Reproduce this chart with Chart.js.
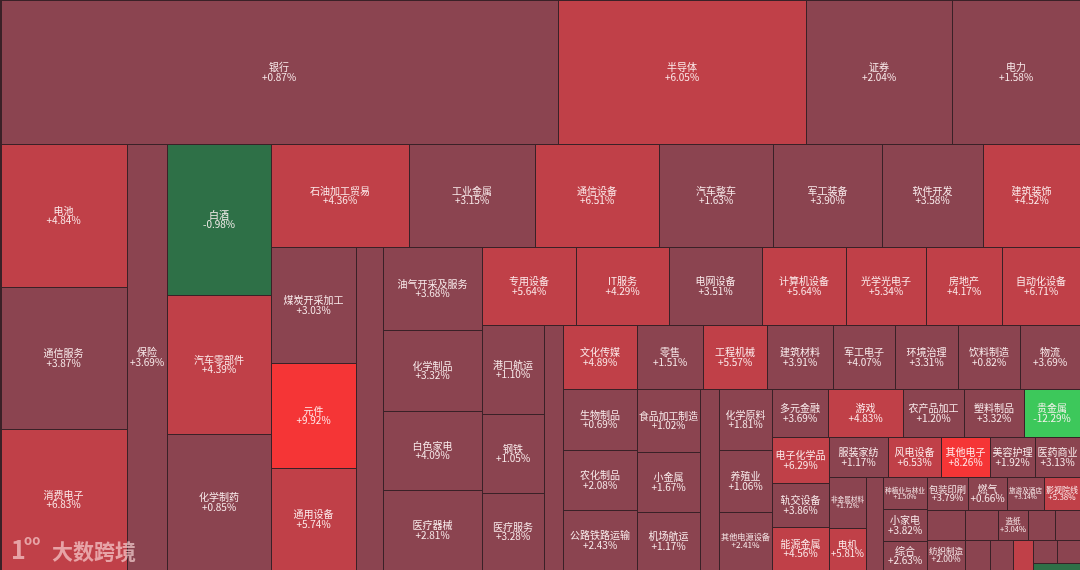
<!DOCTYPE html>
<html lang="zh-CN">
<head>
<meta charset="utf-8">
<title>行业热力图</title>
<script src="https://cdn.jsdelivr.net/npm/chart.js@4.4.1/dist/chart.umd.min.js"></script>
<style>
  html, body { margin: 0; padding: 0; background: #2b1a1f; }
  #wrap { width: 1080px; height: 570px; position: relative; }
</style>
</head>
<body>
<div id="wrap"><canvas id="heat"></canvas></div>
<script>
/* ============================================================
   行业热力图  |  treemap drawn on Chart.js scales
   ============================================================ */

// ── Data ─────────────────────────────────────────────────────
const industries = [
  '银行', '半导体', '证券', '电力',
  '电池', '通信服务', '消费电子',
  '保险',
  '白酒', '汽车零部件', '化学制药',
  '石油加工贸易', '工业金属', '通信设备', '汽车整车', '军工装备', '软件开发', '建筑装饰',
  '煤炭开采加工', '元件', '通用设备',
  '光伏设备',
  '油气开采及服务', '化学制品', '白色家电', '医疗器械',
  '专用设备', 'IT服务', '电网设备', '计算机设备', '光学光电子', '房地产', '自动化设备',
  '港口航运', '钢铁', '医疗服务',
  '中药',
  '文化传媒', '零售', '工程机械', '建筑材料', '军工电子', '环境治理', '饮料制造', '物流',
  '生物制品', '农化制品', '公路铁路运输',
  '食品加工制造', '小金属', '机场航运',
  '家居用品',
  '化学原料', '养殖业', '其他电源设备',
  '多元金融', '游戏', '农产品加工', '塑料制品', '贵金属',
  '电子化学品', '轨交设备', '能源金属',
  '服装家纺', '风电设备', '其他电子', '美容护理', '医药商业',
  '非金属材料', '电机',
  '环保设备',
  '种植业与林业', '小家电', '综合',
  '包装印刷', '燃气', '旅游及酒店', '影视院线',
  '其他社会服务', '纺织制造',
  '金属新材料', '造纸', '橡胶制品', '化学纤维',
  '厨卫电器',
  '黑色家电',
  '教育',
  '汽车服务', '油服工程',
  '贸易'
];

// relative size of each industry (tile area)
const weights = [
  806, 358, 211, 185,
  181, 181, 180,
  168,
  157, 144, 142,
  141, 130, 127, 116, 112, 104, 99,
  99, 89, 87,
  86,
  82, 80, 79, 79,
  73, 73, 72, 66, 62, 59, 61,
  55, 49, 48,
  47,
  47, 42, 41, 42, 40, 40, 40, 38,
  45, 44, 44,
  40, 38, 37,
  34,
  33, 33, 31,
  27, 36, 29, 29, 27,
  26, 25, 24,
  24, 21, 20, 18, 18,
  19, 16,
  15,
  14, 14, 13,
  13.5, 13, 12, 12,
  11.4, 11.4,
  9.9, 9, 8.1, 7.5,
  7.5,
  6.9,
  6,
  5.5, 5.3,
  3.3
];

// daily change, %
const changes = [
  0.87, 6.05, 2.04, 1.58,
  4.84, 3.87, 6.83,
  3.69,
  -0.98, 4.39, 0.85,
  4.36, 3.15, 6.51, 1.63, 3.90, 3.58, 4.52,
  3.03, 9.92, 5.74,
  2.35,
  3.68, 3.32, 4.09, 2.81,
  5.64, 4.29, 3.51, 5.64, 5.34, 4.17, 6.71,
  1.10, 1.05, 3.28,
  1.20,
  4.89, 1.51, 5.57, 3.91, 4.07, 3.31, 0.82, 3.69,
  0.69, 2.08, 2.43,
  1.02, 1.67, 1.17,
  1.90,
  1.81, 1.06, 2.41,
  3.69, 4.83, 1.20, 3.32, -12.29,
  6.29, 3.86, 4.56,
  1.17, 6.53, 8.26, 1.92, 3.13,
  1.72, 5.81,
  2.20,
  1.50, 3.82, 2.63,
  3.79, 0.66, 3.14, 5.38,
  2.10, 2.00,
  3.40, 3.04, 2.60, 1.80,
  2.90,
  1.40,
  5.20,
  2.20, 3.00,
  -0.40
];

// treemap strips: how many industries per strip, and the strip axis
// h = row laid across the top of the free area, v = column on its left
const stripSizes = [4, 3, 1, 3, 7, 3, 1, 4, 7, 3, 1, 8, 3, 3, 1, 3, 5, 3, 5, 2, 1, 3, 4, 2, 4, 1, 1, 1, 2, 1];
const stripAxis  = 'hvvvhvvvhvvhvvvvhvhvvvhvhvvvhh';

// ── Helpers ──────────────────────────────────────────────────
const FONT = '"Noto Sans CJK SC", "Noto Sans", sans-serif';
const LINE = '#3a2127';

function fmtChg(v) { return (v > 0 ? '+' : '') + v.toFixed(2) + '%'; }

function tileColor(v) {
  if (v <= -5)  return '#3dc85b';
  if (v < 0)    return '#2e7047';
  if (v < 4.1)  return '#8b4450';
  if (v < 7.5)  return '#c04048';
  return '#f53536';
}

// ── Layout (unit square, filled strip by strip) ──────────────
function buildTiles() {
  const tiles = [];
  let x0 = 0, y0 = 0, x1 = 1, y1 = 1;
  let remaining = weights.reduce((a, b) => a + b, 0);
  let i = 0;
  stripSizes.forEach((n, s) => {
    const idx = [];
    for (let k = i; k < i + n; k++) idx.push(k);
    const sum = idx.reduce((a, k) => a + weights[k], 0);
    const frac = s === stripSizes.length - 1 ? 1 : sum / remaining;
    if (stripAxis[s] === 'h') {
      const yEnd = y0 + (y1 - y0) * frac;
      let x = x0;
      idx.forEach(k => {
        const w = (x1 - x0) * weights[k] / sum;
        tiles.push({ k, x0: x, x1: x + w, y0, y1: yEnd });
        x += w;
      });
      y0 = yEnd;
    } else {
      const xEnd = x0 + (x1 - x0) * frac;
      let y = y0;
      idx.forEach(k => {
        const h = (y1 - y0) * weights[k] / sum;
        tiles.push({ k, x0, x1: xEnd, y0: y, y1: y + h });
        y += h;
      });
      x0 = xEnd;
    }
    remaining -= sum;
    i += n;
  });
  return tiles;
}

const tiles = buildTiles();

// ── Plugin: draw tiles via the chart scales ──────────────────
const treemapPlugin = {
  id: 'treemapTiles',
  beforeDatasetsDraw(chart) {
    const { ctx, scales: { x: xs, y: ys } } = chart;
    ctx.save();
    ctx.fillStyle = LINE;
    ctx.fillRect(0, 0, chart.width, chart.height);

    tiles.forEach(t => {
      const px0 = Math.round(xs.getPixelForValue(t.x0));
      const px1 = Math.round(xs.getPixelForValue(t.x1));
      const py0 = Math.round(ys.getPixelForValue(t.y0));
      const py1 = Math.round(ys.getPixelForValue(t.y1));
      const w = px1 - px0, h = py1 - py0;
      const inset = px0 === 0 ? 2 : 1;
      ctx.fillStyle = tileColor(changes[t.k]);
      ctx.fillRect(px0 + inset, py0 + 1, w - inset, h - 1);

      // label: name + change, shrunk to fit, hidden if too small
      const name = industries[t.k];
      const chg = fmtChg(changes[t.k]);
      let size = 10;
      ctx.font = `${size}px ${FONT}`;
      const tw = Math.max(ctx.measureText(name).width, ctx.measureText(chg).width);
      if (tw > w - 4) size = size * (w - 4) / tw;
      if (size < 6 || h < size * 2.3) return;
      ctx.font = `${size}px ${FONT}`;
      ctx.fillStyle = 'rgba(255,244,244,0.94)';
      ctx.textAlign = 'center';
      ctx.textBaseline = 'middle';
      const cx = px0 + w / 2, cy = py0 + h / 2;
      ctx.fillText(name, cx, cy - size * 0.45);
      ctx.fillText(chg, cx, cy + size * 0.48);
    });
    ctx.restore();
  },
  afterDraw(chart) {
    // watermark
    const ctx = chart.ctx;
    ctx.save();
    ctx.fillStyle = 'rgba(255,225,225,0.62)';
    ctx.textBaseline = 'alphabetic';
    ctx.textAlign = 'left';
    ctx.font = `bold 25px ${FONT}`;
    ctx.fillText('1', 11, 559);
    ctx.font = `bold 13px ${FONT}`;
    ctx.fillText('oo', 24, 545);
    ctx.font = `bold 21px ${FONT}`;
    ctx.fillText('大数跨境', 52, 559);
    ctx.restore();
  }
};

// ── Chart ────────────────────────────────────────────────────
new Chart(document.getElementById('heat'), {
  type: 'scatter',
  data: {
    datasets: [{
      data: tiles.map(t => ({ x: (t.x0 + t.x1) / 2, y: (t.y0 + t.y1) / 2, k: t.k })),
      pointRadius: 0,
      pointHoverRadius: 0,
      pointHitRadius: 20
    }]
  },
  options: {
    animation: false,
    responsive: true,
    maintainAspectRatio: false,
    devicePixelRatio: 1,
    layout: { padding: 0 },
    scales: {
      x: { type: 'linear', min: 0, max: 1, display: false },
      y: { type: 'linear', min: 0, max: 1, reverse: true, display: false }
    },
    plugins: {
      legend: { display: false },
      tooltip: {
        callbacks: {
          label: c => ` ${industries[c.raw.k]}: ${fmtChg(changes[c.raw.k])}`
        }
      }
    }
  },
  plugins: [treemapPlugin]
});
</script>
</body>
</html>
